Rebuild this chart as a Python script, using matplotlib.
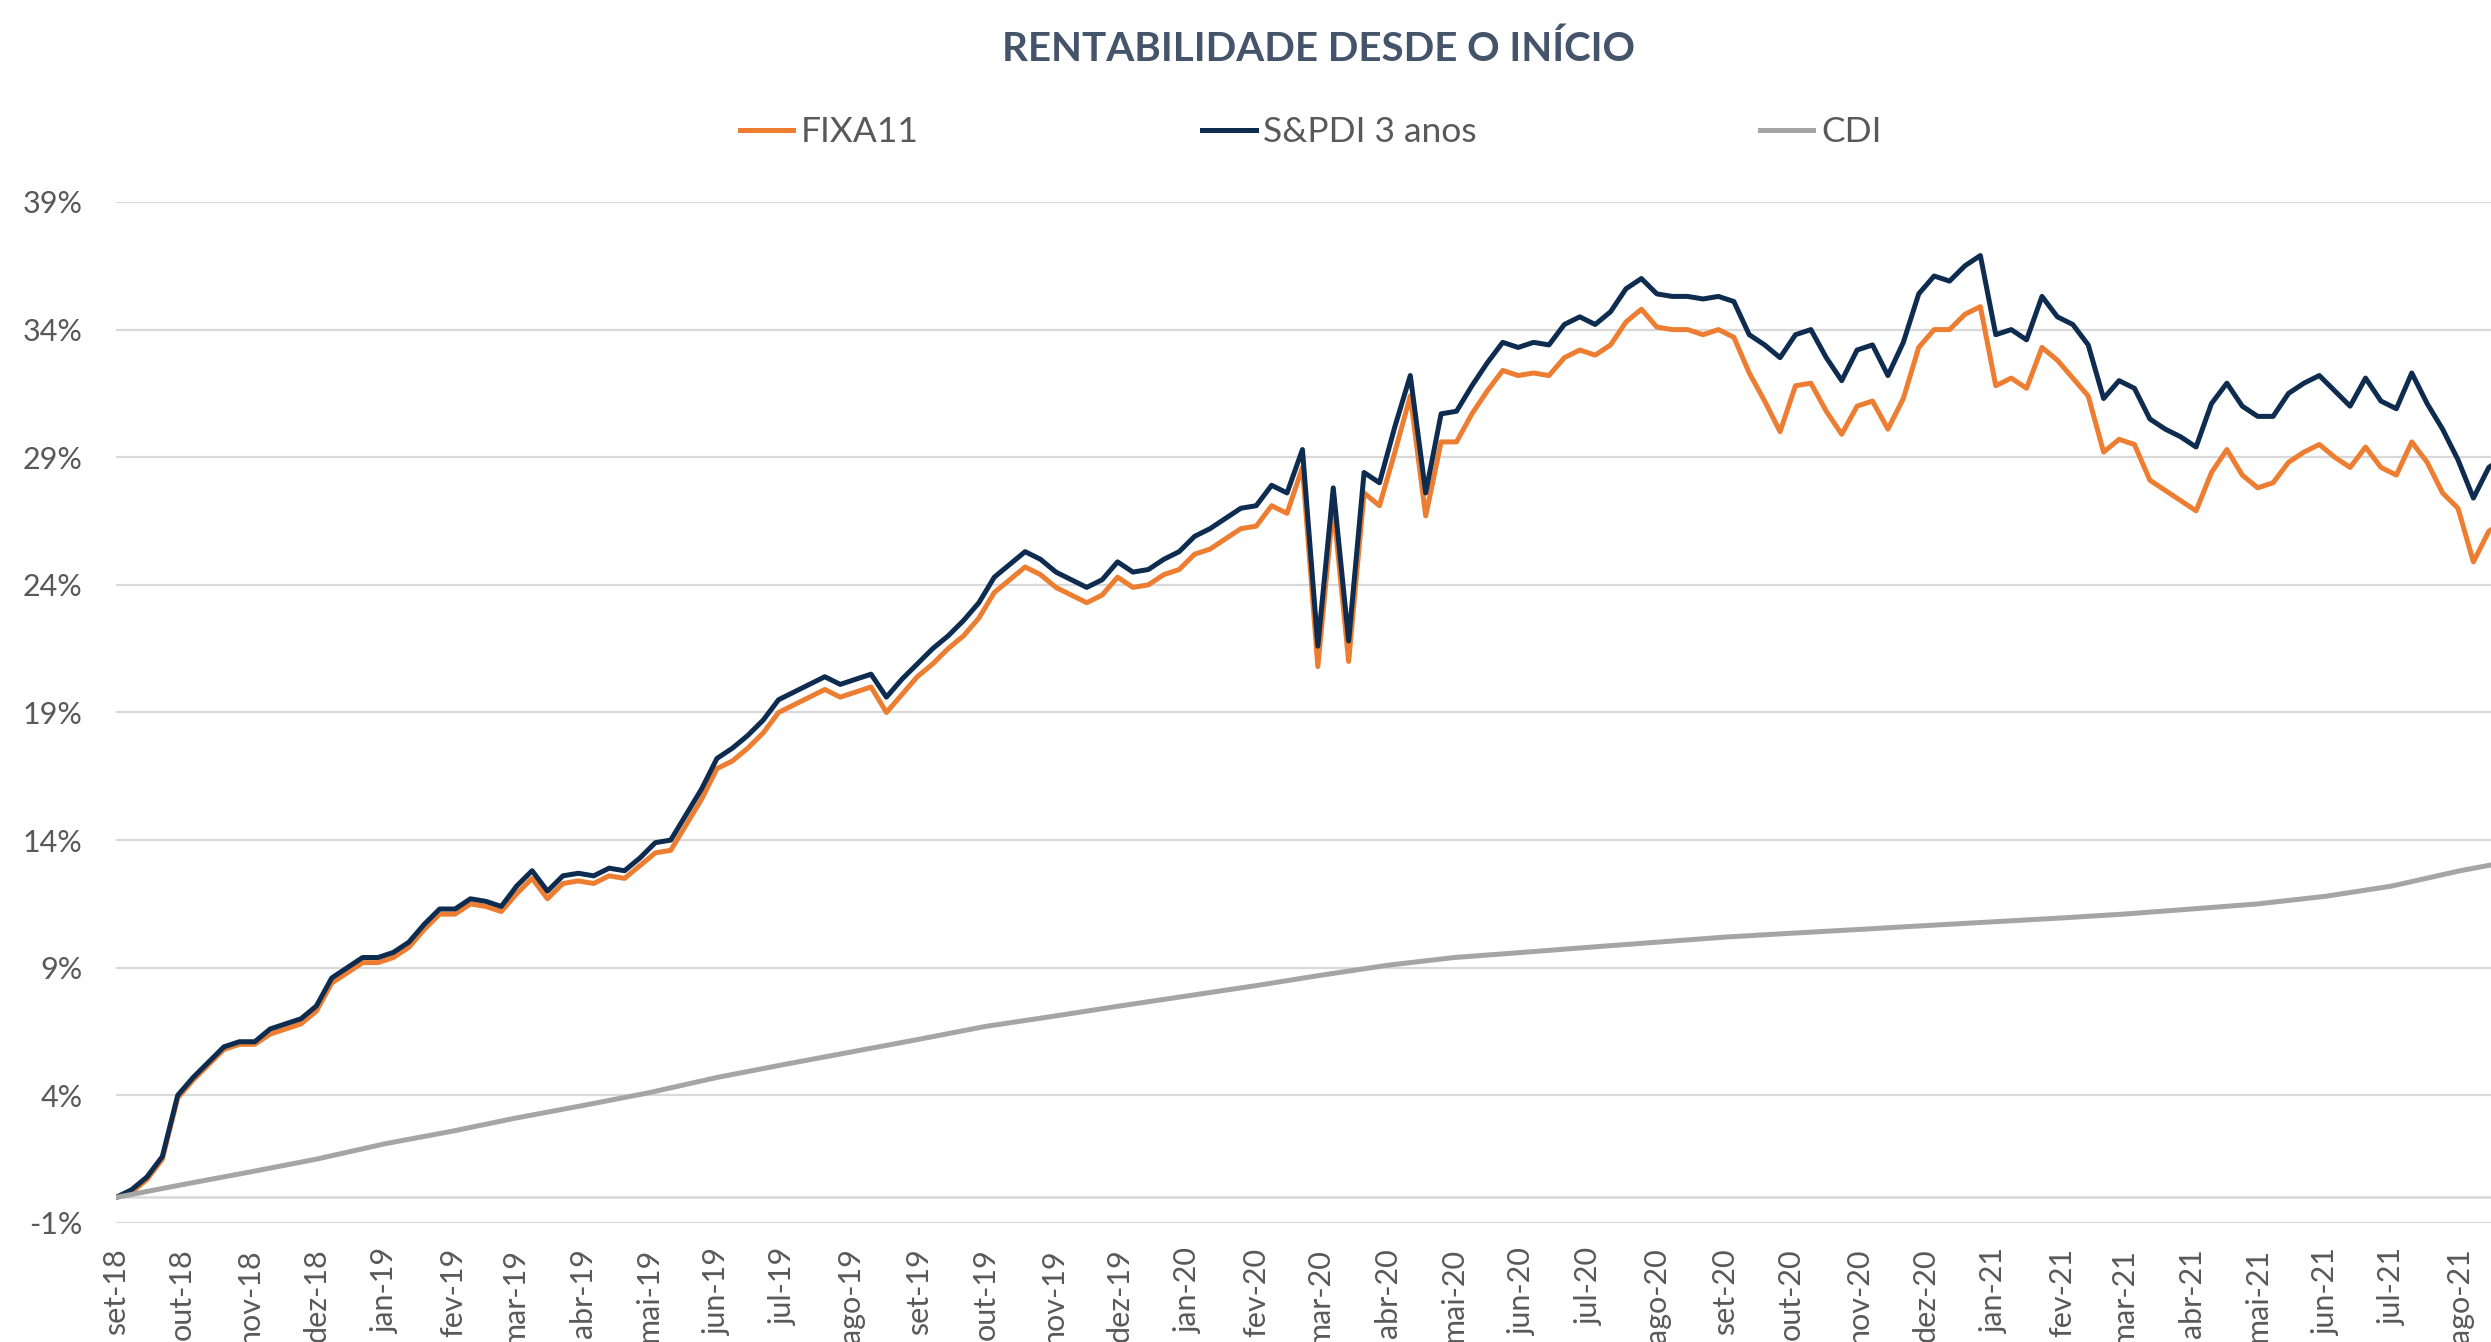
import numpy as np
import pandas as pd
import matplotlib
matplotlib.use("Agg")
import matplotlib.pyplot as plt

plt.rcParams['font.family'] = ['Lato', 'DejaVu Sans']

# weekly closing values (% accumulated since inception)
start = '2018-09-20'
spdi = [
    0.0, 0.3, 0.8, 1.6, 4.0, 4.7, 5.3, 5.9, 6.1, 6.1,
    6.6, 6.8, 7.0, 7.5, 8.6, 9.0, 9.4, 9.4, 9.6, 10.0,
    10.7, 11.3, 11.3, 11.7, 11.6, 11.4, 12.2, 12.8, 12.0, 12.6,
    12.7, 12.6, 12.9, 12.8, 13.3, 13.9, 14.0, 15.0, 16.0, 17.2,
    17.6, 18.1, 18.7, 19.5, 19.8, 20.1, 20.4, 20.1, 20.3, 20.5,
    19.6, 20.3, 20.9, 21.5, 22.0, 22.6, 23.3, 24.3, 24.8, 25.3,
    25.0, 24.5, 24.2, 23.9, 24.2, 24.9, 24.5, 24.6, 25.0, 25.3,
    25.9, 26.2, 26.6, 27.0, 27.1, 27.9, 27.6, 29.3, 21.6, 27.8,
    21.8, 28.4, 28.0, 30.2, 32.2, 27.6, 30.7, 30.8, 31.8, 32.7,
    33.5, 33.3, 33.5, 33.4, 34.2, 34.5, 34.2, 34.7, 35.6, 36.0,
    35.4, 35.3, 35.3, 35.2, 35.3, 35.1, 33.8, 33.4, 32.9, 33.8,
    34.0, 32.9, 32.0, 33.2, 33.4, 32.2, 33.5, 35.4, 36.1, 35.9,
    36.5, 36.9, 33.8, 34.0, 33.6, 35.3, 34.5, 34.2, 33.4, 31.3,
    32.0, 31.7, 30.5, 30.1, 29.8, 29.4, 31.1, 31.9, 31.0, 30.6,
    30.6, 31.5, 31.9, 32.2, 31.6, 31.0, 32.1, 31.2, 30.9, 32.3,
    31.1, 30.1, 28.9, 27.4, 28.6, 29.0]
fixa = [
    0.0, 0.2, 0.7, 1.5, 3.9, 4.6, 5.2, 5.8, 6.0, 6.0,
    6.4, 6.6, 6.8, 7.3, 8.4, 8.8, 9.2, 9.2, 9.4, 9.8,
    10.5, 11.1, 11.1, 11.5, 11.4, 11.2, 11.9, 12.5, 11.7, 12.3,
    12.4, 12.3, 12.6, 12.5, 13.0, 13.5, 13.6, 14.6, 15.6, 16.8,
    17.1, 17.6, 18.2, 19.0, 19.3, 19.6, 19.9, 19.6, 19.8, 20.0,
    19.0, 19.7, 20.4, 20.9, 21.5, 22.0, 22.7, 23.7, 24.2, 24.7,
    24.4, 23.9, 23.6, 23.3, 23.6, 24.3, 23.9, 24.0, 24.4, 24.6,
    25.2, 25.4, 25.8, 26.2, 26.3, 27.1, 26.8, 28.6, 20.8, 27.1,
    21.0, 27.6, 27.1, 29.2, 31.4, 26.7, 29.6, 29.6, 30.7, 31.6,
    32.4, 32.2, 32.3, 32.2, 32.9, 33.2, 33.0, 33.4, 34.3, 34.8,
    34.1, 34.0, 34.0, 33.8, 34.0, 33.7, 32.3, 31.2, 30.0, 31.8,
    31.9, 30.8, 29.9, 31.0, 31.2, 30.1, 31.3, 33.3, 34.0, 34.0,
    34.6, 34.9, 31.8, 32.1, 31.7, 33.3, 32.8, 32.1, 31.4, 29.2,
    29.7, 29.5, 28.1, 27.7, 27.3, 26.9, 28.4, 29.3, 28.3, 27.8,
    28.0, 28.8, 29.2, 29.5, 29.0, 28.6, 29.4, 28.6, 28.3, 29.6,
    28.8, 27.6, 27.0, 24.9, 26.1, 26.5]
# monthly CDI accumulated
cdi = [0.0, 0.5, 1.0, 1.5, 2.1, 2.6, 3.1, 3.6, 4.1, 4.7,
       5.2, 5.7, 6.2, 6.7, 7.1, 7.5, 7.9, 8.3, 8.7, 9.1,
       9.4, 9.6, 9.8, 10.0, 10.2, 10.35, 10.5, 10.65, 10.8, 10.95,
       11.1, 11.3, 11.5, 11.8, 12.2, 12.8, 13.3]

pt_months = ['jan', 'fev', 'mar', 'abr', 'mai', 'jun',
             'jul', 'ago', 'set', 'out', 'nov', 'dez']
yticks = [-1, 4, 9, 14, 19, 24, 29, 34, 39]

week_dates = pd.date_range(start, periods=len(spdi), freq='7D')
month_dates = pd.date_range(start, periods=len(cdi), freq=pd.DateOffset(months=1))
tick_dates = month_dates[:36]
tick_labels = ['%s-%s' % (pt_months[d.month - 1], d.strftime('%y')) for d in tick_dates]

orange = '#ED7D31'
navy = '#0D2C4F'
grey = '#A5A5A5'
txt = '#595959'

fig = plt.figure(figsize=(24.91, 13.42), dpi=100)
ax = fig.add_axes([0.0466, 0.0887, 0.9534, 0.7608])

ax.plot(week_dates, fixa, color=orange, lw=3.6, solid_joinstyle='round', label='FIXA11')
ax.plot(week_dates, spdi, color=navy, lw=3.6, solid_joinstyle='round', label='S&PDI 3 anos')
ax.plot(month_dates, cdi, color=grey, lw=3.6, solid_joinstyle='round', label='CDI')

ax.set_ylim(-1, 39)
ax.set_yticks(yticks)
ax.set_yticklabels(['%d%%' % v for v in yticks])
ax.grid(axis='y', color='#D9D9D9', lw=1.6)
ax.axhline(0, color='#D9D9D9', lw=1.8, zorder=0.5)
ax.set_axisbelow(True)

x0 = pd.Timestamp(start)
ax.set_xlim(x0, x0 + pd.Timedelta(days=1079))
ax.set_xticks(tick_dates)
ax.set_xticklabels(tick_labels, rotation=90, va='top', ha='center')

for s in ax.spines.values():
    s.set_visible(False)
ax.tick_params(axis='both', length=0, labelsize=22, colors=txt)
ax.tick_params(axis='y', pad=24)
ax.tick_params(axis='x', pad=18)

fig.text(0.5295, 0.963, 'RENTABILIDADE DESDE O INÍCIO', ha='center', va='center',
         fontsize=29, fontweight='bold', color='#44546A')

leg = fig.legend(loc='center', bbox_to_anchor=(0.5263, 0.9016), ncol=3, frameon=False,
                 fontsize=25.5, handlelength=1.5, handletextpad=0.22, columnspacing=8.0)
for t in leg.get_texts():
    t.set_color(txt)

fig.savefig('out.png', dpi=100)
